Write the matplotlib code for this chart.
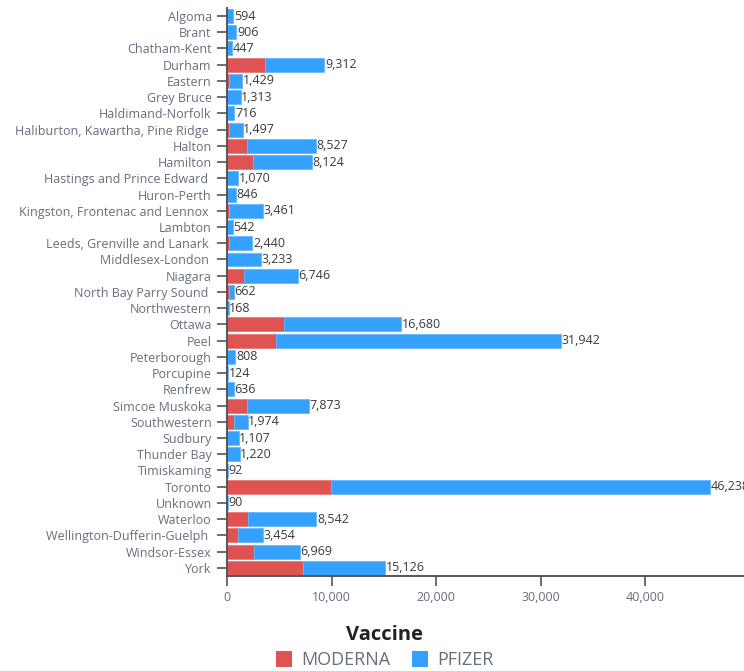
import numpy as np
import matplotlib
matplotlib.use('Agg')
import matplotlib.pyplot as plt
from matplotlib.patches import Patch

plt.rcParams['font.family'] = ['Open Sans', 'DejaVu Sans']

# public health units (trailing spaces kept as they appear in the source labels)
regions = ['Algoma', 'Brant', 'Chatham-Kent', 'Durham', 'Eastern', 'Grey Bruce',
           'Haldimand-Norfolk', 'Haliburton, Kawartha, Pine Ridge ', 'Halton', 'Hamilton',
           'Hastings and Prince Edward ', 'Huron-Perth', 'Kingston, Frontenac and Lennox ',
           'Lambton', 'Leeds, Grenville and Lanark ', 'Middlesex-London ', 'Niagara',
           'North Bay Parry Sound ', 'Northwestern', 'Ottawa', 'Peel', 'Peterborough',
           'Porcupine', 'Renfrew', 'Simcoe Muskoka', 'Southwestern', 'Sudbury',
           'Thunder Bay', 'Timiskaming', 'Toronto', 'Unknown', 'Waterloo',
           'Wellington-Dufferin-Guelph ', 'Windsor-Essex', 'York']
totals = [594, 906, 447, 9312, 1429, 1313, 716, 1497, 8527, 8124, 1070, 846, 3461, 542,
          2440, 3233, 6746, 662, 168, 16680, 31942, 808, 124, 636, 7873, 1974, 1107,
          1220, 92, 46238, 90, 8542, 3454, 6969, 15126]
moderna = [0, 0, 0, 3670, 220, 0, 0, 150, 1950, 2460, 0, 0, 150, 0,
           150, 0, 1630, 150, 0, 5420, 4660, 0, 0, 0, 1950, 640, 0,
           0, 0, 9950, 0, 2040, 1020, 2550, 7300]
pfizer = [t - m for t, m in zip(totals, moderna)]

RED = '#e05353'
BLUE = '#33a1fd'
LABEL_GRAY = '#646f7e'

fig = plt.figure(figsize=(7.44, 6.71), dpi=100)
ax = fig.add_axes([227 / 744, 1 - 576 / 671, 1 - 227 / 744, (576 - 7.9) / 671])

y = np.arange(len(regions))
ax.barh(y, moderna, height=0.86, color=RED, edgecolor='#ea7a7a', linewidth=0.6)
ax.barh(y, pfizer, left=moderna, height=0.86, color=BLUE, edgecolor='#66b8ff', linewidth=0.6)

for yi, t in zip(y, totals):
    ax.text(t + 60, yi, f'{t:,}', va='center', ha='left', fontsize=9, color='#3a3a3a',
            clip_on=False)

ax.set_ylim(len(regions) - 0.5, -0.5)
ax.set_xlim(0, 49470)
ax.set_yticks(y)
ax.set_yticklabels(regions, fontsize=9, color=LABEL_GRAY)
ax.set_xticks([0, 10000, 20000, 30000, 40000])
ax.set_xticklabels(['0', '10,000', '20,000', '30,000', '40,000'], fontsize=9, color=LABEL_GRAY)
ax.tick_params(axis='y', length=7, width=1.2, color='#555555', pad=4)
ax.tick_params(axis='x', length=7, width=1.2, color='#555555', pad=4)

for s in ['top', 'right']:
    ax.spines[s].set_visible(False)
for s in ['left', 'bottom']:
    ax.spines[s].set_color('#555555')
    ax.spines[s].set_linewidth(1.4)

fig.text(385 / 744, 1 - 635 / 671, 'Vaccine', ha='center', va='center',
         fontsize=14.5, fontweight='bold', color='#222222')
handles = [Patch(facecolor=RED, edgecolor='none', label='MODERNA'),
           Patch(facecolor=BLUE, edgecolor='none', label='PFIZER')]
fig.legend(handles=handles, loc='center', bbox_to_anchor=(385 / 744, 1 - 660 / 671),
           ncol=2, frameon=False, fontsize=13, handlelength=0.9, handleheight=1.0,
           handletextpad=0.5, columnspacing=1.2, labelcolor=LABEL_GRAY, borderpad=0)

fig.savefig('out.png', dpi=100)
